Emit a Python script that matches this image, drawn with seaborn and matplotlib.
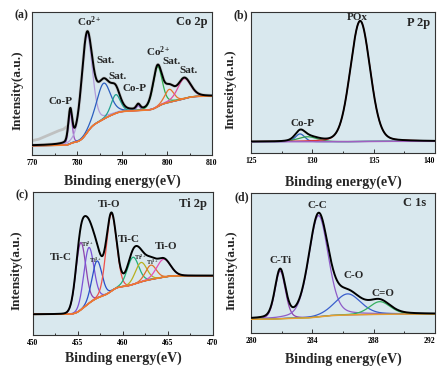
import numpy as np
import pandas as pd
import matplotlib
matplotlib.use("Agg")
import matplotlib.pyplot as plt
import seaborn as sns
from matplotlib.ticker import MultipleLocator, FuncFormatter

sns.set_theme(style="white")
plt.rcParams["font.family"] = ["Liberation Serif", "DejaVu Serif"]
plt.rcParams["font.weight"] = "bold"
plt.rcParams["mathtext.fontset"] = "custom"
plt.rcParams["mathtext.rm"] = "Liberation Serif:bold"
plt.rcParams["mathtext.it"] = "Liberation Serif:bold"
plt.rcParams["mathtext.bf"] = "Liberation Serif:bold"

# ---------------- data ----------------
# (a) Co 2p : fitted peak parameters
co_centers = [778.5, 782.2, 785.9, 788.6, 793.6, 797.9, 800.5, 803.8]
co_heights = [0.22, 0.68, 0.25, 0.13, 0.035, 0.28, 0.09, 0.14]
co_fwhm = [1.0, 2.8, 3.6, 2.4, 1.0, 2.4, 2.4, 3.4]
co_bg_ends = [0.065, 0.41]
co_raw_x = [770, 771.5, 773, 774.5, 776, 777, 777.8]
co_raw_y = [0.10, 0.11, 0.13, 0.15, 0.17, 0.18, 0.20]
co_labels = ["Co-P", r"Co$^{2+}$", "Sat.", "Sat.", "Co-P", r"Co$^{2+}$", "Sat.", "Sat."]

# (b) P 2p
p_centers = [129.0, 129.6, 133.9]
p_heights = [0.055, 0.035, 0.855]
p_fwhm = [0.9, 1.9, 1.9]
p_bg_ends = [0.080, 0.083]
p_labels = ["Co-P", "POx"]

# (c) Ti 2p
ti_centers = [455.3, 456.2, 457.1, 458.7, 461.1, 462.0, 463.1, 464.5]
ti_heights = [0.47, 0.39, 0.26, 0.54, 0.19, 0.135, 0.10, 0.125]
ti_fwhm = [1.3, 1.3, 1.3, 1.35, 1.5, 1.5, 1.4, 1.8]
ti_bg_ends = [0.144, 0.414]
ti_labels = ["Ti-C", r"Ti$^{2+}$", r"Ti$^{3+}$", "Ti-O", "Ti-C", r"Ti$^{2+}$", r"Ti$^{3+}$", "Ti-O"]

# (d) C 1s
c_centers = [281.9, 284.4, 286.3, 288.4]
c_heights = [0.34, 0.72, 0.15, 0.09]
c_fwhm = [0.8, 1.5, 2.0, 1.6]
c_bg_ends = [0.100, 0.137]
c_labels = ["C-Ti", "C-C", "C-O", "C=O"]

# ---------------- styling / layout ----------------
BG = "#d9e8ee"
SPINE = "#333333"
co_colors = ["#9b4fc0", "#b39ddb", "#2b5fbf", "#20a090", "#8a5fc0", "#35b050", "#e8742c", "#e0509e"]
p_colors = ["#3060c0", "#30a050", "#e03030"]
ti_colors = ["#8e44ad", "#7b52d6", "#2a4fc8", "#f0504a", "#22b07a", "#b8b020", "#e0702a", "#e44fb8"]
c_colors = ["#8e44ad", "#8e5cc8", "#3a5fcd", "#35b060"]


def pv(x, c, h, w, eta=0.25):
    g = np.exp(-4 * np.log(2) * (x - c) ** 2 / w ** 2)
    l = 1.0 / (1 + 4 * (x - c) ** 2 / w ** 2)
    return h * ((1 - eta) * g + eta * l)


def shirley(total, lo, hi):
    cum = np.cumsum(total)
    cum = cum / cum[-1]
    return lo + (hi - lo) * cum


def line(ax, x, y, color, lw, alpha=1.0, z=2):
    sns.lineplot(x=x, y=y, ax=ax, color=color, lw=lw, alpha=alpha, zorder=z,
                 legend=False, sort=False, estimator=None)


def panel(ax, xr, centers, heights, fwhm, bg_ends, colors, bg_color, eta=0.25, raw=None):
    x = np.linspace(xr[0], xr[1], 900)
    comps = [pv(x, c, h, w, eta) for c, h, w in zip(centers, heights, fwhm)]
    total = np.sum(comps, axis=0)
    bg = shirley(total, *bg_ends)
    env = bg + total
    if raw is not None:
        rx, ry = raw
        line(ax, np.array(rx), np.array(ry), "#bdbdbd", 2.0, 0.9, 1)
        line(ax, x, env, "#bdbdbd", 2.4, 0.7, 1)
    for comp, col in zip(comps, colors):
        line(ax, x, bg + comp, col, 0.9, 1, 3)
    line(ax, x, bg, bg_color, 1.1, 1, 4)
    line(ax, x, env, "black", 1.4, 1, 5)


fig = plt.figure(figsize=(4.38, 3.69), dpi=100)
pos = {
    "a": [32 / 438, 1 - 155 / 369, 180 / 438, 143.5 / 369],
    "b": [251 / 438, 1 - 153 / 369, 184 / 438, 141 / 369],
    "c": [33 / 438, 1 - 335 / 369, 180 / 438, 143.3 / 369],
    "d": [251 / 438, 1 - 333.3 / 369, 184 / 438, 140.6 / 369],
}
axes = {k: fig.add_axes(v) for k, v in pos.items()}

panel(axes["a"], (770, 810), co_centers, co_heights, co_fwhm, co_bg_ends, co_colors,
      "#f07a2a", raw=(co_raw_x, co_raw_y))
panel(axes["b"], (125, 140), p_centers, p_heights, p_fwhm, p_bg_ends, p_colors,
      "#a060c0", eta=0.15)
panel(axes["c"], (450, 470), ti_centers, ti_heights, ti_fwhm, ti_bg_ends, ti_colors,
      "#f07a2a", eta=0.05)
panel(axes["d"], (280, 292), c_centers, c_heights, c_fwhm, c_bg_ends, c_colors,
      "#e8a030")

xlims = {"a": (770, 810), "b": (125, 140), "c": (450, 470), "d": (280, 292)}
majors = {"a": 10, "b": 5, "c": 5, "d": 4}
minors = {"a": 5, "b": 2.5, "c": 2.5, "d": 2}
ylab_x = {"a": -0.044, "b": -0.076, "c": -0.056, "d": -0.071}
xlab_y = {"a": -0.139, "b": -0.163, "c": -0.112, "d": -0.14}
titles = {"a": "Co 2p", "b": "P 2p", "c": "Ti 2p", "d": "C 1s"}
title_pos = {"a": (0.89, 0.93), "b": (0.91, 0.92), "c": (0.89, 0.915), "d": (0.89, 0.925)}
tags = {"a": (21, 15), "b": (241, 15), "c": (22, 195), "d": (242, 197)}
right_aligned_last = {"b", "d"}


def make_fmt(skip):
    def f(v, p):
        if skip is not None and abs(v - skip) < 1e-6:
            return ""
        return f"{v:g}"
    return FuncFormatter(f)


for k, ax in axes.items():
    ax.set_facecolor(BG)
    ax.set_xlim(*xlims[k])
    ax.set_ylim(0, 1)
    ax.xaxis.set_major_locator(MultipleLocator(majors[k]))
    ax.xaxis.set_minor_locator(MultipleLocator(minors[k]))
    skip = xlims[k][1] if k in right_aligned_last else None
    ax.xaxis.set_major_formatter(make_fmt(skip))
    ax.set_yticks([])
    ax.tick_params(axis="x", which="both", direction="in", bottom=True, top=False,
                   colors=SPINE, labelsize=5.5, pad=3, width=0.7)
    ax.tick_params(axis="x", which="major", length=3)
    ax.tick_params(axis="x", which="minor", length=1.8)
    ax.tick_params(axis="x", labelcolor="black")
    for s in ax.spines.values():
        s.set_color(SPINE)
        s.set_linewidth(0.8)
    if skip is not None:
        ax.annotate(f"{skip:g}", xy=(skip, 0), xycoords=("data", "axes fraction"),
                    xytext=(0, -3), textcoords="offset points", ha="right", va="top",
                    fontsize=5.5, fontweight="bold", color="black", annotation_clip=False)
    ax.set_xlabel("Binding energy(eV)", fontsize=10, fontweight="bold")
    ax.set_ylabel("Intensity(a.u.)", fontsize=9.5, fontweight="bold")
    ax.xaxis.set_label_coords(0.5, xlab_y[k])
    ax.yaxis.set_label_coords(ylab_x[k], 0.45)
    ax.text(*title_pos[k], titles[k], transform=ax.transAxes, ha="center", va="center",
            fontsize=9, fontweight="bold")
    fig.text(tags[k][0] / 438, 1 - tags[k][1] / 369, f"({k})", ha="center", va="center",
             fontsize=8.5, fontweight="bold")

# peak labels (data-x, axes-fraction y)
co_lab_pos = [(776.3, 0.376), (782.7, 0.93), (786.4, 0.66), (789.0, 0.55),
              (792.8, 0.46), (798.0, 0.72), (801.0, 0.65), (804.7, 0.59)]
for t, (px, py) in zip(co_labels, co_lab_pos):
    axes["a"].text(px, py, t, ha="center", va="center", fontsize=8, fontweight="bold")

p_lab_pos = [(129.2, 0.21), (133.7, 0.96)]
for t, (px, py) in zip(p_labels, p_lab_pos):
    axes["b"].text(px, py, t, ha="center", va="center", fontsize=8, fontweight="bold")

ti_lab_pos = [(453.1, 0.54), (456.1, 0.63), (457.0, 0.52), (458.5, 0.914),
              (460.7, 0.663), (461.9, 0.545), (463.3, 0.51), (464.8, 0.62)]
ti_lab_size = [8, 4.5, 4.5, 8, 8, 4.5, 4.5, 8]
for t, (px, py), fs in zip(ti_labels, ti_lab_pos, ti_lab_size):
    axes["c"].text(px, py, t, ha="center", va="center", fontsize=fs, fontweight="bold")

c_lab_pos = [(281.9, 0.52), (284.3, 0.91), (286.7, 0.41), (288.6, 0.28)]
for t, (px, py) in zip(c_labels, c_lab_pos):
    axes["d"].text(px, py, t, ha="center", va="center", fontsize=8, fontweight="bold")

for ax in axes.values():
    for lab in ax.get_xticklabels():
        lab.set_fontweight("bold")

fig.savefig("out.png", dpi=100, facecolor="white")
